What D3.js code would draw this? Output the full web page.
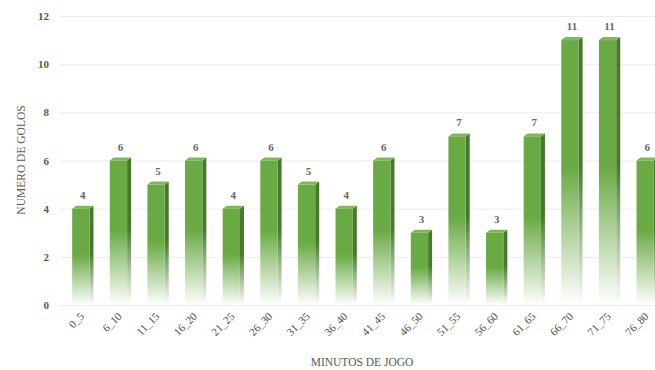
<!DOCTYPE html>
<html>
<head>
<meta charset="utf-8">
<script src="https://cdn.jsdelivr.net/npm/d3@7"></script>
<style>
  body { margin: 0; background: #fff; }
  text { font-family: "Liberation Serif", "DejaVu Serif", serif; fill: #595959; }
</style>
</head>
<body>
<div id="chart"></div>
<script>
var categories = ["0_5", "6_10", "11_15", "16_20", "21_25", "26_30", "31_35", "36_40",
                  "41_45", "46_50", "51_55", "56_60", "61_65", "66_70", "71_75", "76_80"];
var golos = [4, 6, 5, 6, 4, 6, 5, 4, 6, 3, 7, 3, 7, 11, 11, 6];
var yTicks = [0, 2, 4, 6, 8, 10, 12];

var w = 655, h = 370;
var svg = d3.select("#chart").append("svg")
    .attr("width", w)
    .attr("height", h);

var x = d3.scaleBand()
    .domain(categories)
    .range([62, 664])
    .paddingInner(0.54)
    .paddingOuter(0.27);
var y = d3.scaleLinear()
    .domain([0, 12])
    .range([305, 16]);

// gradient: solid green on top, fading to white near the floor
var defs = svg.append("defs");
function grad(id, c) {
  var g = defs.append("linearGradient").attr("id", id)
      .attr("x1", 0).attr("y1", 0).attr("x2", 0).attr("y2", 1);
  g.append("stop").attr("offset", "0%").attr("stop-color", c);
  g.append("stop").attr("offset", "48%").attr("stop-color", c);
  g.append("stop").attr("offset", "100%").attr("stop-color", "#ffffff");
}
grad("front", "#6aaa45");
grad("side", "#457a2a");

// grid
svg.append("g").selectAll("line")
    .data(yTicks)
  .enter().append("line")
    .attr("x1", 60).attr("x2", w)
    .attr("y1", function(d) { return y(d) + 0.5; })
    .attr("y2", function(d) { return y(d) + 0.5; })
    .attr("stroke", "#ececec");

// y tick labels
svg.append("g").selectAll("text")
    .data(yTicks)
  .enter().append("text")
    .attr("x", 49)
    .attr("y", function(d) { return y(d) + 4; })
    .attr("text-anchor", "end")
    .style("font-size", "11px")
    .style("font-weight", "bold")
    .text(function(d) { return d; });

var dx = 4, dy = 3;
var bars = svg.append("g").selectAll("g")
    .data(golos)
  .enter().append("g");

bars.append("path")
    .attr("fill", "url(#side)")
    .attr("d", function(d, i) {
      var x1 = x(categories[i]) + x.bandwidth(), y1 = y(d), y0 = y(0);
      return "M" + x1 + "," + y1 + "L" + (x1 + dx) + "," + (y1 - dy) +
             "L" + (x1 + dx) + "," + (y0 - dy) + "L" + x1 + "," + y0 + "Z";
    });
bars.append("path")
    .attr("fill", "#7fb85a")
    .attr("d", function(d, i) {
      var x0 = x(categories[i]), x1 = x0 + x.bandwidth(), y1 = y(d);
      return "M" + x0 + "," + y1 + "L" + (x0 + dx) + "," + (y1 - dy) +
             "L" + (x1 + dx) + "," + (y1 - dy) + "L" + x1 + "," + y1 + "Z";
    });
bars.append("rect")
    .attr("x", function(d, i) { return x(categories[i]); })
    .attr("y", function(d) { return y(d); })
    .attr("width", x.bandwidth())
    .attr("height", function(d) { return y(0) - y(d); })
    .attr("fill", "url(#front)");

// value labels
bars.append("text")
    .attr("x", function(d, i) { return x(categories[i]) + x.bandwidth() / 2 + 2; })
    .attr("y", function(d) { return y(d) - 10; })
    .attr("text-anchor", "middle")
    .style("font-size", "11px")
    .style("font-weight", "bold")
    .style("fill", "#666")
    .text(function(d) { return d; });

// x tick labels
svg.append("g").selectAll("text")
    .data(categories)
  .enter().append("text")
    .attr("transform", function(d) {
      return "translate(" + (x(d) + x.bandwidth() / 2 + 4) + ",317) rotate(-45)";
    })
    .attr("text-anchor", "end")
    .style("font-size", "11px")
    .style("fill", "#4a4a4a")
    .text(function(d) { return d; });

svg.append("text")
    .attr("x", 362).attr("y", 366)
    .attr("text-anchor", "middle")
    .style("font-size", "11.5px")
    .text("MINUTOS DE JOGO");

svg.append("text")
    .attr("transform", "translate(25,160) rotate(-90)")
    .attr("text-anchor", "middle")
    .style("font-size", "11.5px")
    .text("NUMERO DE GOLOS");
</script>
</body>
</html>
